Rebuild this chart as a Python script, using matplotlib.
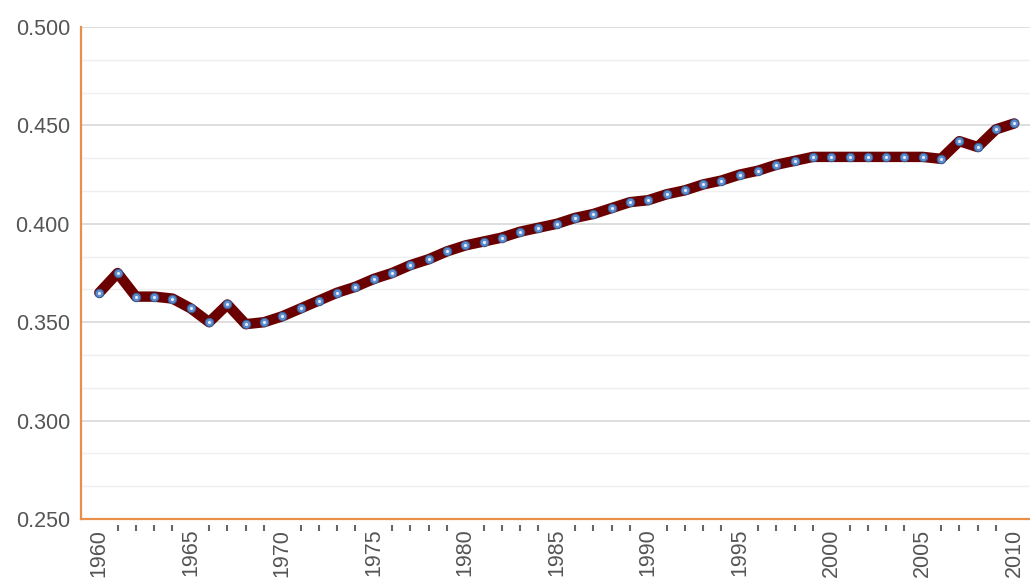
import matplotlib
matplotlib.use("Agg")
import matplotlib.pyplot as plt
from matplotlib.ticker import MultipleLocator, FormatStrFormatter

years = list(range(1960, 2011))
values = [0.365, 0.375, 0.363, 0.363, 0.362, 0.357, 0.350, 0.359, 0.349, 0.350,
          0.353, 0.357, 0.361, 0.365, 0.368, 0.372, 0.375, 0.379, 0.382, 0.386,
          0.389, 0.391, 0.393, 0.396, 0.398, 0.400, 0.403, 0.405, 0.408, 0.411,
          0.412, 0.415, 0.417, 0.420, 0.422, 0.425, 0.427, 0.430, 0.432, 0.434,
          0.434, 0.434, 0.434, 0.434, 0.434, 0.434, 0.433, 0.442, 0.439, 0.448,
          0.451]
label_years = [y for y in years if y % 5 == 0]
minor_years = [y for y in years if y % 5 != 0]

plt.rcParams['font.family'] = ['Liberation Sans', 'DejaVu Sans']

fig = plt.figure(figsize=(10.30, 5.82), dpi=100)
ax = fig.add_axes([81 / 1030, 63 / 582, 1 - 81 / 1030, (519 - 27) / 582])

ax.plot(years, values, color='#6a0000', lw=7.5, solid_joinstyle='round',
        solid_capstyle='round', zorder=3)
ax.plot(years, values, ls='none', marker='o', ms=6, mfc='#5f8fd0',
        mec='#3b5f96', mew=0.8, zorder=4)
ax.plot(years, values, ls='none', marker='o', ms=2.2, mfc='#e8f0ff',
        mec='none', zorder=5)

ax.set_xlim(1959, 2010.86)
ax.set_ylim(0.25, 0.5)
ax.set_xticks(label_years)
ax.set_xticklabels([str(y) for y in label_years], rotation=90)
ax.yaxis.set_major_locator(MultipleLocator(0.05))
ax.yaxis.set_minor_locator(MultipleLocator(0.05 / 3))
ax.yaxis.set_major_formatter(FormatStrFormatter('%.3f'))

ax.grid(axis='y', which='major', color='#d8d8d8', lw=1.2)
ax.grid(axis='y', which='minor', color='#efefef', lw=1.0)
ax.set_axisbelow(True)

ax.tick_params(axis='both', which='both', length=0, labelsize=15.5,
               labelcolor='#555555')
ax.tick_params(axis='y', pad=8)
ax.tick_params(axis='x', pad=7)

for s in ['top', 'right']:
    ax.spines[s].set_visible(False)
for s in ['left', 'bottom']:
    ax.spines[s].set_color('#e8904a')
    ax.spines[s].set_linewidth(1.6)

# small detached tick dashes below the axis for the unlabeled years
ax.vlines(minor_years, -0.024, -0.013, transform=ax.get_xaxis_transform(),
          colors='#666666', lw=1.5, clip_on=False)

fig.savefig('out.png', dpi=100)
